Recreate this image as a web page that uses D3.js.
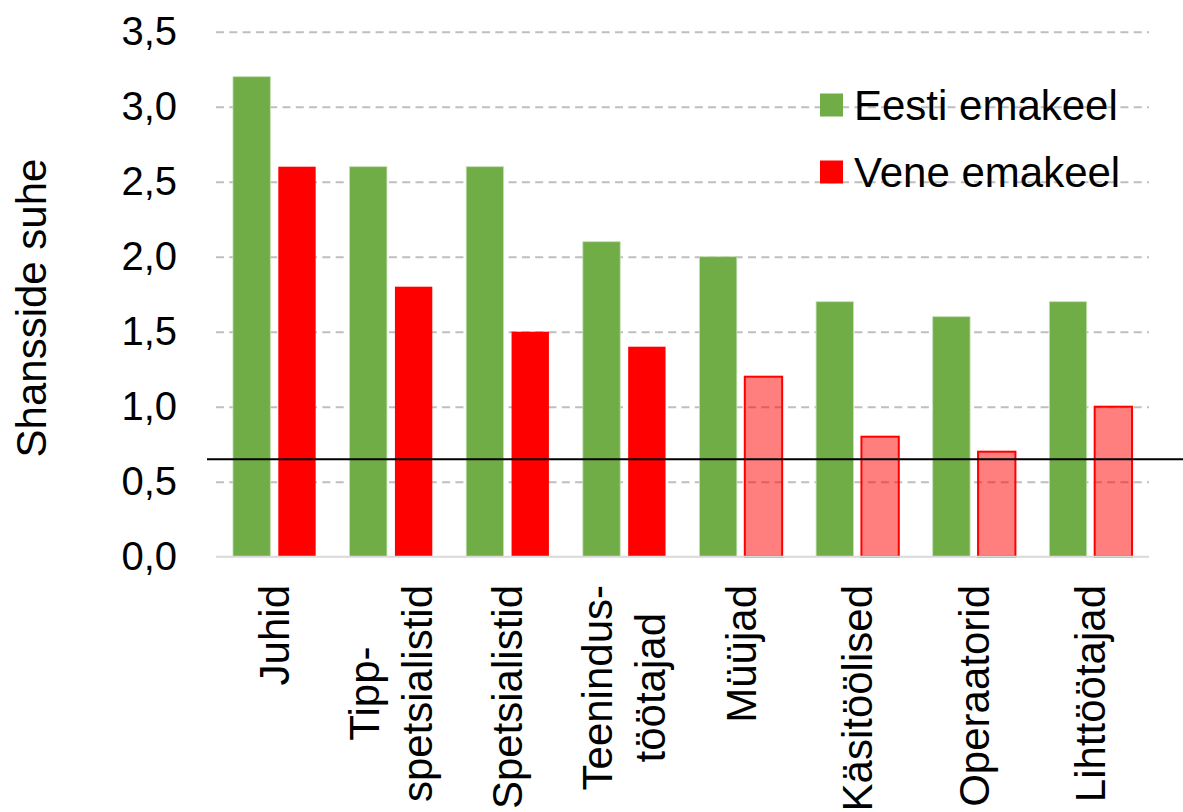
<!DOCTYPE html>
<html>
<head>
<meta charset="utf-8">
<script src="https://cdn.jsdelivr.net/npm/d3@7"></script>
<style>
  body { margin: 0; background: #fff; }
  text { font-family: "Liberation Sans", Arial, sans-serif; fill: #000; }
</style>
</head>
<body>
<div id="chart"></div>
<script>
// data
const categories = [
  ['Juhid'],
  ['Tipp-', 'spetsialistid'],
  ['Spetsialistid'],
  ['Teenindus-', 'töötajad'],
  ['Müüjad'],
  ['Käsitöölised'],
  ['Operaatorid'],
  ['Lihttöötajad']
];
const seriesNames = ['Eesti emakeel', 'Vene emakeel'];
const eestiValues = [3.2, 2.6, 2.6, 2.1, 2.0, 1.7, 1.6, 1.7];
const veneValues = [2.6, 1.8, 1.5, 1.4, 1.2, 0.8, 0.7, 1.0];
// light bars = not significant
const veneSignificant = [true, true, true, true, false, false, false, false];
const yTicks = [0, 0.5, 1, 1.5, 2, 2.5, 3, 3.5];
const referenceLine = 0.65;
const yTitle = 'Shansside suhe';

const W = 1183, H = 812;
const plot = { left: 216, right: 1149, top: 31.7, bottom: 556.7 };
const green = '#70AD47', red = '#FF0000';

const svg = d3.select('#chart').append('svg')
  .attr('width', W)
  .attr('height', H);

const x = d3.scaleBand()
  .domain(d3.range(categories.length))
  .range([plot.left, plot.right])
  .padding(0);

const xInner = d3.scaleBand()
  .domain([0, 1])
  .range([0, x.bandwidth()])
  .paddingInner(0.176)
  .paddingOuter(0.374);

const y = d3.scaleLinear()
  .domain([0, 3.5])
  .range([plot.bottom, plot.top]);

const fmt = d3.formatLocale({ decimal: ',', thousands: ' ', grouping: [3], currency: ['', ''] }).format('.1f');

// gridlines
svg.append('g')
  .attr('class', 'grid')
  .attr('transform', `translate(${plot.left},0)`)
  .call(d3.axisLeft(y).tickValues(yTicks.slice(1)).tickSize(-(plot.right - plot.left)).tickFormat(''))
  .call(g => g.select('.domain').remove())
  .call(g => g.selectAll('line')
    .attr('stroke', '#BFBFBF')
    .attr('stroke-width', 2)
    .attr('stroke-dasharray', '8,5.3'));

// y axis labels
svg.append('g')
  .attr('transform', `translate(${plot.left},0)`)
  .call(d3.axisLeft(y).tickValues(yTicks).tickSize(0).tickPadding(39).tickFormat(fmt))
  .call(g => g.select('.domain').remove())
  .call(g => g.selectAll('text')
    .attr('font-size', 40)
    .attr('font-family', '"Liberation Sans", Arial, sans-serif')
    .attr('fill', '#000'));

// bars
const bars = svg.append('g');
bars.selectAll('rect.eesti')
  .data(eestiValues)
  .join('rect')
  .attr('class', 'eesti')
  .attr('x', (d, i) => x(i) + xInner(0))
  .attr('width', xInner.bandwidth())
  .attr('y', d => y(d))
  .attr('height', d => y(0) - y(d))
  .attr('fill', green)
  .attr('stroke', '#C5E0B4')
  .attr('stroke-width', 0.8);

bars.selectAll('rect.vene')
  .data(veneValues)
  .join('rect')
  .attr('class', 'vene')
  .attr('x', (d, i) => x(i) + xInner(1))
  .attr('width', xInner.bandwidth())
  .attr('y', d => y(d))
  .attr('height', d => y(0) - y(d))
  .attr('fill', red)
  .attr('fill-opacity', (d, i) => veneSignificant[i] ? 1 : 0.5)
  .attr('stroke', red)
  .attr('stroke-width', (d, i) => veneSignificant[i] ? 0 : 2);

// baseline
svg.append('line')
  .attr('x1', plot.left).attr('x2', plot.right)
  .attr('y1', y(0)).attr('y2', y(0))
  .attr('stroke', '#D9D9D9')
  .attr('stroke-width', 2);

// reference line
svg.append('line')
  .attr('x1', 207).attr('x2', W)
  .attr('y1', y(referenceLine)).attr('y2', y(referenceLine))
  .attr('stroke', '#000')
  .attr('stroke-width', 2);

// category labels
const labelTop = 585;
const lineGap = 53;
categories.forEach((lines, i) => {
  const cx = x(i) + x.bandwidth() / 2;
  const g = svg.append('g')
    .attr('transform', `translate(${cx},${labelTop}) rotate(-90)`);
  const texts = lines.map((t, j) => g.append('text')
    .attr('font-size', 42)
    .attr('text-anchor', 'middle')
    .attr('y', (j - (lines.length - 1) / 2) * lineGap)
    .attr('dy', '0.35em')
    .text(t));
  const maxLen = d3.max(texts, t => t.node().getComputedTextLength());
  texts.forEach(t => t.attr('x', -maxLen / 2));
});

// y title
svg.append('text')
  .attr('transform', 'translate(31,308) rotate(-90)')
  .attr('text-anchor', 'middle')
  .attr('dy', '0.35em')
  .attr('font-size', 42)
  .text(yTitle);

// legend
const legend = svg.append('g');
[green, red].forEach((c, i) => {
  const cy = 105 + i * 67;
  legend.append('rect')
    .attr('x', 820).attr('y', cy - 11.5)
    .attr('width', 23).attr('height', 23)
    .attr('fill', c);
  legend.append('text')
    .attr('x', 854).attr('y', cy)
    .attr('dy', '0.35em')
    .attr('font-size', 42)
    .text(seriesNames[i]);
});
</script>
</body>
</html>
